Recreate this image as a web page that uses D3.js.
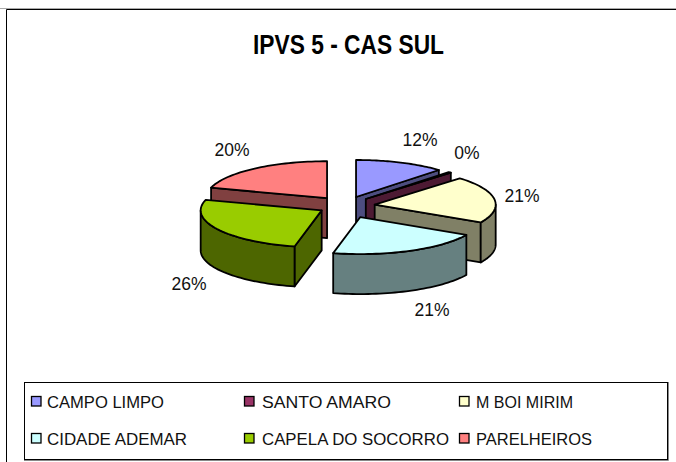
<!DOCTYPE html>
<html>
<head>
<meta charset="utf-8">
<script src="https://cdn.jsdelivr.net/npm/d3@7"></script>
<style>
  html, body { margin: 0; padding: 0; background: #fff; }
  svg { display: block; font-family: "Liberation Sans", Arial, sans-serif; }
</style>
</head>
<body>
<div id="chart"></div>
<script>
var titleText = "IPVS 5 - CAS SUL";
var categories = ["CAMPO LIMPO", "SANTO AMARO", "M BOI MIRIM", "CIDADE ADEMAR", "CAPELA DO SOCORRO", "PARELHEIROS"];
var shares = [12, 0.4, 20.6, 20.6, 26, 20.4];
var colors = ["#9999ff", "#993366", "#ffffcc", "#ccffff", "#99cc00", "#ff8080"];

var width = 676, height = 462;
var cx = 345, cy = 206;   // pie centre
var rx = 121, ry = 37;    // top ellipse
var depth = 40;
var explodeX = 30, explodeY = 9.7;
var explodeBy = [1, 1, 1, 1.25, 0.9, 1];

// label centres, same order as categories
var labelX = [420, 467, 522, 432, 189, 232];
var labelY = [140, 153, 196, 310, 284, 150];

var svg = d3.select("#chart").append("svg")
  .attr("width", width)
  .attr("height", height);

// chart frame, runs off the picture on the right and bottom
svg.append("path").attr("d", "M0,8.5H676").attr("stroke", "#aaa").attr("fill", "none");
svg.append("path").attr("d", "M6.5,462V9.5H676").attr("stroke", "#000").attr("fill", "none");

svg.append("text")
  .attr("x", 348.5).attr("y", 54)
  .attr("text-anchor", "middle")
  .attr("font-size", 27).attr("font-weight", "bold")
  .attr("textLength", 191).attr("lengthAdjust", "spacingAndGlyphs")
  .text(titleText);

var pie = d3.pie().sort(null).startAngle(0).endAngle(2 * Math.PI);
var slices = pie(shares);
slices.forEach(function(d, i) {
  var mid = (d.startAngle + d.endAngle) / 2;
  d.ax = cx + explodeBy[i] * explodeX * Math.sin(mid);
  d.ay = cy - explodeBy[i] * explodeY * Math.cos(mid);
});

function rimPoint(d, t) {
  return [d.ax + rx * Math.sin(t), d.ay - ry * Math.cos(t)];
}
function rimPoints(d, a, b) {
  return d3.range(0, 41).map(function(k) { return rimPoint(d, a + (b - a) * k / 40); });
}
function shade(c) {
  var o = d3.rgb(c);
  return d3.rgb(o.r / 2, o.g / 2, o.b / 2).formatHex();
}
var line = d3.line();

// painter's order, back to front
var order = [5, 0, 1, 2, 4, 3];
var g = svg.append("g")
  .attr("stroke", "#000").attr("stroke-width", 1.8).attr("stroke-linejoin", "round");

order.forEach(function(i) {
  var d = slices[i];
  var side = shade(colors[i]);
  var apex = [d.ax, d.ay];
  function down(p) { return [p[0], p[1] + depth]; }

  // radial faces that look toward the viewer
  [d.startAngle, d.endAngle].forEach(function(t, n) {
    var s = Math.sin(t);
    var visible = n === 0 ? s < -1e-6 : s > 1e-6;
    if (!visible) return;
    var e = rimPoint(d, t);
    g.append("path").attr("fill", side)
      .attr("d", line([apex, e, down(e), down(apex)]) + "Z");
  });

  // outer wall, front half of the ellipse only
  var a = Math.max(d.startAngle, Math.PI / 2), b = Math.min(d.endAngle, 3 * Math.PI / 2);
  if (b > a) {
    var top = rimPoints(d, a, b);
    g.append("path").attr("fill", side)
      .attr("d", line(top.concat(top.slice().reverse().map(down))) + "Z");
  }

  // top face
  g.append("path").attr("fill", colors[i])
    .attr("d", line([apex].concat(rimPoints(d, d.startAngle, d.endAngle))) + "Z");
});

svg.append("g").selectAll("text")
  .data(shares)
  .enter().append("text")
  .attr("x", function(d, i) { return labelX[i]; })
  .attr("y", function(d, i) { return labelY[i]; })
  .attr("dy", "0.35em")
  .attr("text-anchor", "middle")
  .attr("font-size", 17.5)
  .attr("fill", "#111")
  .text(function(d) { return Math.round(d) + "%"; });

// legend
svg.append("rect")
  .attr("x", 24.5).attr("y", 382.5).attr("width", 643).attr("height", 77)
  .attr("fill", "#fff").attr("stroke", "#000");
svg.append("path").attr("d", "M668.5,382V460.5H24").attr("fill", "none").attr("stroke", "#888");

var legendX = [31, 244, 459];
var legendY = [396, 433];
var legendTextLen = [117, 129, 97, 140, 187, 116];

var item = svg.append("g").selectAll("g")
  .data(categories)
  .enter().append("g")
  .attr("transform", function(d, i) {
    return "translate(" + legendX[i % 3] + "," + legendY[Math.floor(i / 3)] + ")";
  });
item.append("rect")
  .attr("x", 0.5).attr("y", 0.5).attr("width", 9.5).attr("height", 9.5)
  .attr("fill", function(d, i) { return colors[i]; })
  .attr("stroke", "#000").attr("stroke-width", 1.3);
item.append("text")
  .attr("x", function(d, i) { return i % 3 === 2 ? 17 : (i % 3 === 1 ? 18 : 16); })
  .attr("y", 12)
  .attr("font-size", 17)
  .attr("fill", "#111")
  .attr("textLength", function(d, i) { return legendTextLen[i]; })
  .attr("lengthAdjust", "spacingAndGlyphs")
  .text(function(d) { return d; });
</script>
</body>
</html>
